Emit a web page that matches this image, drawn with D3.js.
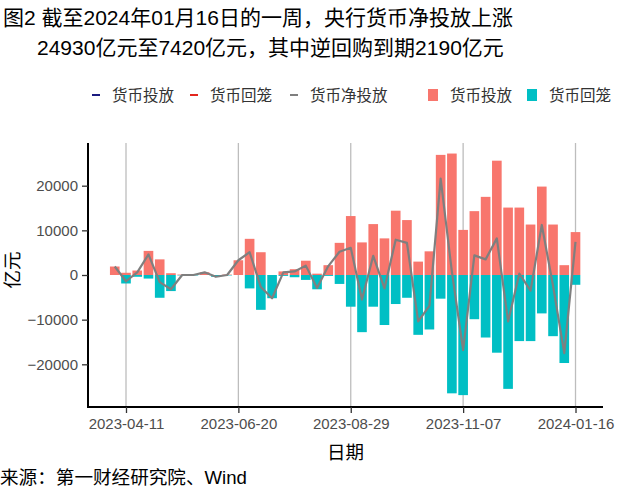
<!DOCTYPE html>
<html><head><meta charset="utf-8">
<script src="https://cdn.jsdelivr.net/npm/d3@7"></script>
<style>body{margin:0;background:#fff}svg{display:block}</style>
</head><body>
<svg id="c" width="640" height="498"></svg>
<script>
const dates = ["2023-04-04","2023-04-11","2023-04-18","2023-04-25","2023-05-02","2023-05-09","2023-05-16","2023-05-23","2023-05-30","2023-06-06","2023-06-13","2023-06-20","2023-06-27","2023-07-04","2023-07-11","2023-07-18","2023-07-25","2023-08-01","2023-08-08","2023-08-15","2023-08-22","2023-08-29","2023-09-05","2023-09-12","2023-09-19","2023-09-26","2023-10-03","2023-10-10","2023-10-17","2023-10-24","2023-10-31","2023-11-07","2023-11-14","2023-11-21","2023-11-28","2023-12-05","2023-12-12","2023-12-19","2023-12-26","2024-01-02","2024-01-09","2024-01-16"];
const injection = [1900,500,1000,5400,3500,400,100,100,600,0,100,3300,8100,5100,0,800,1300,3200,300,2200,7200,13200,7300,11400,8200,14400,12300,3000,5300,26900,27200,10100,14300,17500,25600,15100,15100,11300,19800,11300,2200,9610];
const withdrawal = [0,-1900,-400,-800,-5100,-3600,-100,-100,0,-400,-100,0,-3000,-7800,-5200,-200,-500,-1100,-3200,-200,-2000,-7100,-12800,-7100,-11200,-6500,-5100,-13400,-12200,-5300,-26500,-26900,-9900,-14000,-17400,-25500,-14800,-14800,-8600,-13700,-19710,-2190];
const netInjection = [1900,-1400,600,4600,-1600,-3200,0,0,600,-400,0,3300,5100,-2700,-5200,600,800,2100,-2900,2000,5200,6100,-5500,4300,-3000,7900,7200,-10400,-6900,21600,700,-16800,4400,3500,8200,-10400,300,-3500,11200,-2400,-17510,7420];
const xTickLabels = ["2023-04-11","2023-06-20","2023-08-29","2023-11-07","2024-01-16"];
const yTickValues = [-20000,-10000,0,10000,20000];
const legendLineLabels = ["货币投放","货币回笼","货币净投放"];
const legendFillLabels = ["货币投放","货币回笼"];
const titleLines = ["图2 截至2024年01月16日的一周，央行货币净投放上涨","24930亿元至7420亿元，其中逆回购到期2190亿元"];

const parse = d3.utcParse("%Y-%m-%d");
const data = dates.map((d,i)=>({date:parse(d),pos:injection[i],neg:withdrawal[i],net:netInjection[i]}));
const svg = d3.select("#c");
const FONT = "'Liberation Sans','Noto Sans CJK SC',sans-serif";
svg.append("rect").attr("width",640).attr("height",498).attr("fill","#fff");

const L=88,R=603,T=143,B=407;
const x = d3.scaleUtc().domain([new Date(Date.UTC(2023,2,18,8)), new Date(Date.UTC(2024,1,2,3))]).range([L,R]);
const y = d3.scaleLinear().domain([-29560,29560]).range([B,T]);
const DAY=86400000;

// grid
const ticks = xTickLabels.map(parse);
svg.append("g").selectAll("line").data(ticks).join("line")
  .attr("x1",d=>x(d)).attr("x2",d=>x(d)).attr("y1",T).attr("y2",B)
  .attr("stroke","#bdbdbd").attr("stroke-width",1.3);

// bars
const bw = d=>x(new Date(+d.date+3*DAY))-x(new Date(+d.date-3*DAY));
svg.append("g").selectAll("rect").data(data.filter(d=>d.pos>0)).join("rect")
  .attr("x",d=>x(new Date(+d.date-3*DAY))).attr("width",bw)
  .attr("y",d=>y(d.pos)).attr("height",d=>y(0)-y(d.pos)).attr("fill","#F8766D");
svg.append("g").selectAll("rect").data(data.filter(d=>d.neg<0)).join("rect")
  .attr("x",d=>x(new Date(+d.date-3*DAY))).attr("width",bw)
  .attr("y",y(0)).attr("height",d=>y(d.neg)-y(0)).attr("fill","#00BFC4");

// net line
svg.append("path").datum(data)
  .attr("d",d3.line().x(d=>x(d.date)).y(d=>y(d.net)))
  .attr("fill","none").attr("stroke","#7f7f7f").attr("stroke-width",2.2).attr("stroke-linejoin","round");

// axes
const xa = svg.append("g").attr("transform",`translate(0,${B})`)
  .call(d3.axisBottom(x).tickValues(ticks).tickFormat(d3.utcFormat("%Y-%m-%d")).tickSizeOuter(0).tickSize(6).tickPadding(5));
const ya = svg.append("g").attr("transform",`translate(${L},0)`)
  .call(d3.axisLeft(y).tickValues(yTickValues).tickFormat(d3.format("d")).tickSizeOuter(0).tickSize(6).tickPadding(4));
[xa,ya].forEach(g=>{
  g.select(".domain").attr("stroke","#000").attr("stroke-width",2);
  g.selectAll(".tick line").attr("stroke","#333").attr("stroke-width",1.3);
  g.selectAll(".tick text").attr("fill","#4D4D4D").style("font-family",FONT).style("font-size","15px");
});
xa.select(".domain").attr("d",`M${L-1},0H${R}`);
ya.select(".domain").attr("d",`M0,${T}V${B+1}`);

// axis titles
svg.append("text").attr("x",(L+R)/2).attr("y",459).attr("text-anchor","middle")
  .style("font-family",FONT).style("font-size","18.5px").attr("fill","#000").text("日期");
svg.append("text").attr("transform","translate(19,270) rotate(-90)").attr("text-anchor","middle")
  .style("font-family",FONT).style("font-size","18.5px").attr("fill","#000").text("亿元");

// title
svg.append("text").attr("x",3).attr("y",25).style("font-family",FONT).style("font-size","21px").attr("fill","#000").text(titleLines[0]);
svg.append("text").attr("x",37).attr("y",55).style("font-family",FONT).style("font-size","21px").attr("fill","#000").text(titleLines[1]);

// legend
const lineColors = ["#1B1B80","#E3261E","#7F7F7F"];
const lineX = [92,190,290];
legendLineLabels.forEach((lab,i)=>{
  svg.append("line").attr("x1",lineX[i]).attr("x2",lineX[i]+8).attr("y1",95).attr("y2",95)
    .attr("stroke",lineColors[i]).attr("stroke-width",2);
  svg.append("text").attr("x",lineX[i]+20).attr("y",101).style("font-family",FONT).style("font-size","15.5px")
    .attr("fill","#333").text(lab);
});
const fillColors = ["#F8766D","#00BFC4"];
const fillX = [428,527];
legendFillLabels.forEach((lab,i)=>{
  svg.append("rect").attr("x",fillX[i]).attr("y",89).attr("width",10).attr("height",12).attr("fill",fillColors[i]);
  svg.append("text").attr("x",fillX[i]+22).attr("y",101).style("font-family",FONT).style("font-size","15.5px")
    .attr("fill","#333").text(lab);
});

// source
svg.append("text").attr("x",0).attr("y",484).style("font-family",FONT).style("font-size","18.6px").attr("fill","#000").text("来源：第一财经研究院、Wind");
</script>
</body></html>
